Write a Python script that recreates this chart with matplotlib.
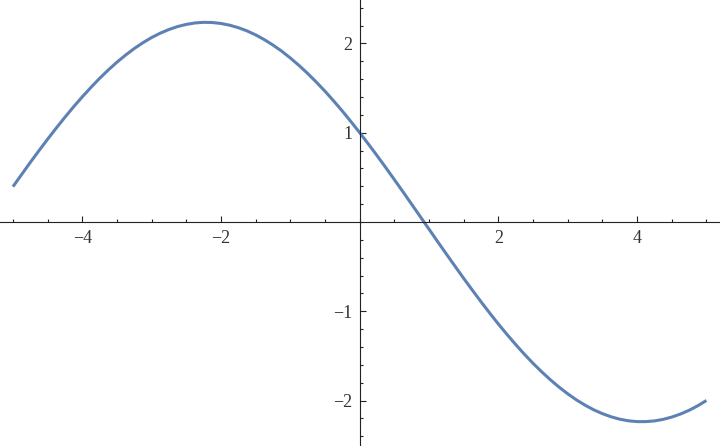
import numpy as np
import matplotlib.pyplot as plt
from matplotlib.ticker import MultipleLocator, FixedLocator

# curve samples (every 0.125 in x)
x_vals = [-5.0, -4.875, -4.75, -4.625, -4.5, -4.375, -4.25, -4.125,
          -4.0, -3.875, -3.75, -3.625, -3.5, -3.375, -3.25, -3.125,
          -3.0, -2.875, -2.75, -2.625, -2.5, -2.375, -2.25, -2.125,
          -2.0, -1.875, -1.75, -1.625, -1.5, -1.375, -1.25, -1.125,
          -1.0, -0.875, -0.75, -0.625, -0.5, -0.375, -0.25, -0.125,
          0.0, 0.125, 0.25, 0.375, 0.5, 0.625, 0.75, 0.875,
          1.0, 1.125, 1.25, 1.375, 1.5, 1.625, 1.75, 1.875,
          2.0, 2.125, 2.25, 2.375, 2.5, 2.625, 2.75, 2.875,
          3.0, 3.125, 3.25, 3.375, 3.5, 3.625, 3.75, 3.875,
          4.0, 4.125, 4.25, 4.375, 4.5, 4.625, 4.75, 4.875, 5.0]
y_vals = [0.396, 0.532, 0.668, 0.799, 0.928, 1.053, 1.174, 1.291,
          1.402, 1.508, 1.609, 1.703, 1.790, 1.870, 1.943, 2.008,
          2.066, 2.115, 2.156, 2.189, 2.213, 2.229, 2.236, 2.234,
          2.223, 2.204, 2.176, 2.140, 2.095, 2.042, 1.981, 1.913,
          1.836, 1.753, 1.663, 1.566, 1.464, 1.355, 1.242, 1.123,
          1.000, 0.873, 0.743, 0.610, 0.474, 0.337, 0.198, 0.058,
          -0.081, -0.221, -0.359, -0.496, -0.632, -0.764, -0.894, -1.020,
          -1.143, -1.260, -1.373, -1.481, -1.583, -1.678, -1.767, -1.849,
          -1.924, -1.992, -2.051, -2.103, -2.146, -2.181, -2.208, -2.226,
          -2.235, -2.235, -2.227, -2.210, -2.184, -2.150, -2.108, -2.057, -1.998]

x_major = [-4, -2, 2, 4]
y_major = [-2, -1, 1, 2]

fig = plt.figure(figsize=(7.2, 4.46), dpi=100)
ax = fig.add_axes([0, 0, 1, 1])

ax.plot(x_vals, y_vals, color='#5E81B5', lw=2.2,
        solid_capstyle='butt', solid_joinstyle='round')

ax.set_xlim(-5.187, 5.195)
ax.set_ylim(-2.508, 2.486)

for side in ['top', 'right']:
    ax.spines[side].set_visible(False)
ax.spines['left'].set_position(('data', 0))
ax.spines['bottom'].set_position(('data', 0))
for side in ['left', 'bottom']:
    ax.spines[side].set_linewidth(0.8)
    ax.spines[side].set_color('#222222')

ax.xaxis.set_major_locator(FixedLocator(x_major))
ax.yaxis.set_major_locator(FixedLocator(y_major))
ax.xaxis.set_minor_locator(MultipleLocator(0.5))
ax.yaxis.set_minor_locator(MultipleLocator(0.2))

ax.tick_params(which='both', direction='in', color='#222222', width=0.8,
               labelcolor='#333333', labelsize=13, pad=5.5)
ax.tick_params(which='major', length=4.2)
ax.tick_params(which='minor', length=2.5)

for lab in ax.get_xticklabels() + ax.get_yticklabels():
    lab.set_family('Liberation Serif')

ax.set_facecolor('white')
fig.savefig('out.png', dpi=100, facecolor='white')
